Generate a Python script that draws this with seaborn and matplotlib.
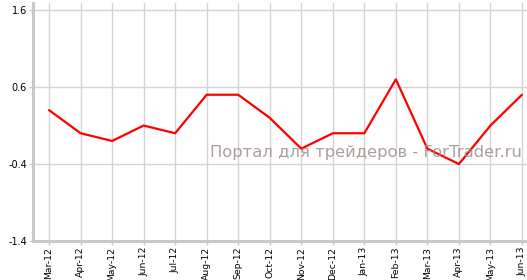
import matplotlib
matplotlib.use("Agg")
import matplotlib.pyplot as plt
import seaborn as sns
import pandas as pd

months = ["Mar-12", "Apr-12", "May-12", "Jun-12", "Jul-12", "Aug-12", "Sep-12", "Oct-12",
          "Nov-12", "Dec-12", "Jan-13", "Feb-13", "Mar-13", "Apr-13", "May-13", "Jun-13"]
values = [0.3, 0.0, -0.1, 0.1, 0.0, 0.5, 0.5, 0.2, -0.2, 0.0, 0.0, 0.7, -0.2, -0.4, 0.1, 0.5]
y_ticks = [-1.4, -0.4, 0.6, 1.6]
watermark = "Портал для трейдеров - ForTrader.ru"

sns.set_theme(style="white")
plt.rcParams['font.family'] = ['DejaVu Sans']

df = pd.DataFrame({"month": months, "value": values, "pos": range(len(months))})

fig = plt.figure(figsize=(5.27, 2.8), dpi=100)
ax = fig.add_axes([0.062, 0.139, 0.938, 0.85])

sns.lineplot(data=df, x="pos", y="value", ax=ax, color="#ff0000", linewidth=1.6, zorder=3)

ax.set_xlim(-0.52, len(months) - 1 + 0.16)
ax.set_ylim(-1.4, 1.69)
ax.set_xticks(range(len(months)))
ax.set_xticklabels(months, rotation=90, fontsize=6.7, color="black")
ax.set_yticks(y_ticks)
ax.set_yticklabels([f"{v:.1f}" for v in y_ticks], fontsize=7, color="black")
ax.set_xlabel("")
ax.set_ylabel("")

ax.grid(True, color="#d4d4d4", linewidth=1.0)
ax.set_axisbelow(True)
for s in ["top", "right"]:
    ax.spines[s].set_visible(False)
for s in ["left", "bottom"]:
    ax.spines[s].set_color("#c8c8c8")
    ax.spines[s].set_linewidth(2.2)

ax.tick_params(axis="y", length=3, width=1, color="#c8c8c8", pad=1, left=True)
ax.tick_params(axis="x", length=3, width=1, color="#c8c8c8", pad=1, bottom=True)

ax.text(0.99, 0.352, watermark, transform=ax.transAxes, ha="right", va="baseline",
        fontsize=11.8, color="#9e8f8c", alpha=0.85, zorder=4)

fig.savefig("out.png", dpi=100)
